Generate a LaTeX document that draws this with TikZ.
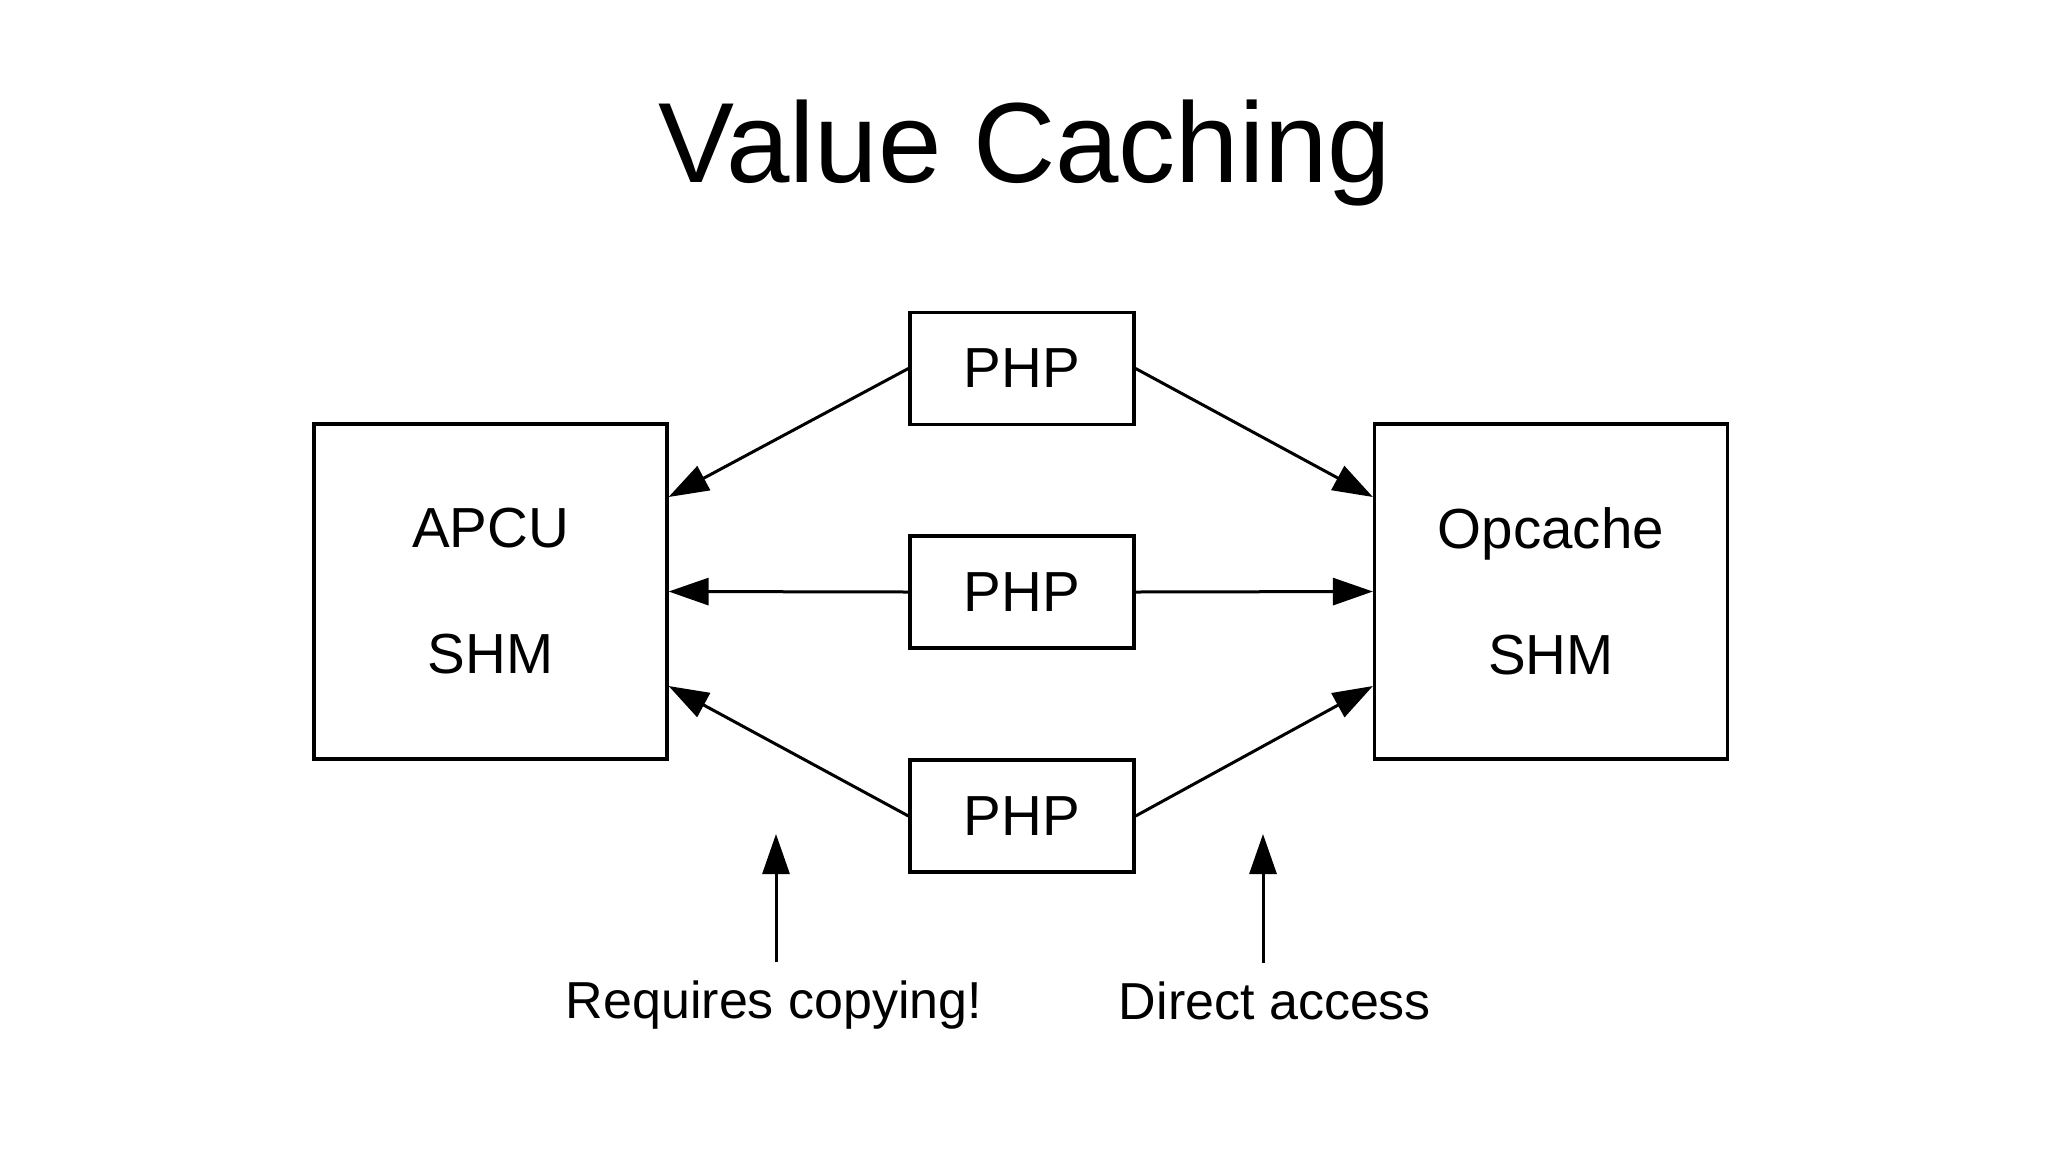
\documentclass[tikz,border=0pt]{standalone}
\usepackage{fontspec}
\setmainfont{Liberation Sans}
\usetikzlibrary{arrows.meta,positioning}

\begin{document}
\begin{tikzpicture}[
    x = 1pt,
    y = -1pt,
    shmbox/.style={draw, line width=3.2pt, minimum width=353pt, minimum height=335pt,
        inner sep=0pt, align=center, font=\fontsize{56.5}{126}\selectfont},
    phpbox/.style={draw, line width=3.2pt, minimum width=224pt, minimum height=112pt,
        inner sep=0pt, font=\fontsize{56.5}{68}\selectfont},
    arrowline/.style={line width=3pt, -{Triangle[length=40pt, width=27pt]}},
    note/.style={inner sep=0pt, outer ysep=18pt, anchor=base, font=\fontsize{52}{62}\selectfont}
    ]
    \useasboundingbox (0,0) rectangle (2048,1152);
    \node[anchor=base, font=\fontsize{114}{137}\selectfont] (title) at (1025,182) {Value Caching};
    % shared memory on both sides
    \node[shmbox] (apcu) at (490.5,591.5) {APCU\\SHM};
    \node[shmbox] (opcache) at (1551,591.5) {Opcache\\SHM};
    % the three processes
    \node[phpbox] (php1) at (1022,368.5) {PHP};
    \node[phpbox] (php2) at (1022,592) {PHP};
    \node[phpbox] (php3) at (1022,816) {PHP};
    \draw[arrowline] (php1.west) -- ([yshift=94.5pt]apcu.east);
    \draw[arrowline] (php2.west) -- (apcu.east);
    \draw[arrowline] (php3.west) -- ([yshift=-94.5pt]apcu.east);
    \draw[arrowline] (php1.east) -- ([yshift=94.5pt]opcache.west);
    \draw[arrowline] (php2.east) -- (opcache.west);
    \draw[arrowline] (php3.east) -- ([yshift=-94.5pt]opcache.west);
    % notes below
    \coordinate (copytip) at (776,834);
    \coordinate (directtip) at (1263,834);
    \node[note] (copynote) at (774,1018) {Requires copying!};
    \node[note] (directnote) at (1275,1019) {Direct access};
    \draw[arrowline] (copynote.north -| copytip) -- (copytip);
    \draw[arrowline] (directnote.north -| directtip) -- (directtip);
\end{tikzpicture}
\end{document}
